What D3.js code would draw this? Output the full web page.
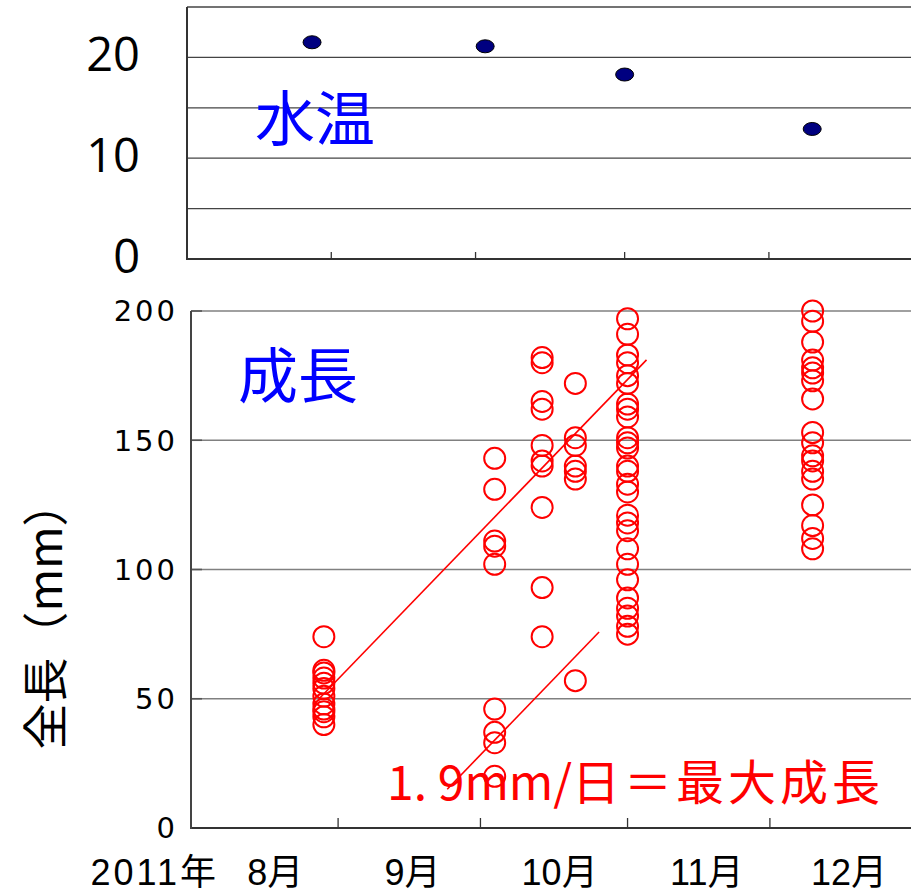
<!DOCTYPE html>
<html>
<head>
<meta charset="utf-8">
<script src="https://cdn.jsdelivr.net/npm/d3@7"></script>
<style>
  html, body { margin: 0; padding: 0; background: #fff; }
  svg { display: block; }
</style>
</head>
<body>
<svg id="chart" width="911" height="892"></svg>
<script>
// Water temperature (°C) at each survey
const tempDates = ["2011-08-28", "2011-10-03", "2011-11-01", "2011-12-10"];
const tempValues = [21.5, 21.1, 18.3, 12.9];

// Total length (mm) of each fish, grouped by survey date
const lengthDates = ["2011-08-29", "2011-10-04", "2011-10-14", "2011-10-21", "2011-11-01", "2011-12-10"];
const lengthAug29 = [74, 61, 60, 58, 56, 54, 51, 48, 46, 45, 43, 40];
const lengthOct04 = [143, 131, 111, 109, 102, 46, 37, 33, 20];
const lengthOct14 = [182, 180, 165, 162, 148, 142, 140, 124, 93, 74];
const lengthOct21 = [172, 151, 148, 140, 138, 135, 57];
const lengthNov01 = [197, 191, 183, 180, 175, 172, 164, 162, 159, 151, 149, 147, 140, 138,
                     133, 130, 121, 118, 115, 108, 102, 96, 89, 85, 82, 78, 75];
const lengthDec10 = [200, 196, 188, 181, 178, 176, 173, 166, 153, 149, 144, 142, 138, 135,
                     125, 117, 112, 108];
const lengthSamples = [lengthAug29, lengthOct04, lengthOct14, lengthOct21, lengthNov01, lengthDec10];

// Maximum-growth guide lines: start date, start length, end date; slope = growthRate mm/day
const growthRate = 1.9;
const guideStarts = ["2011-08-28", "2011-09-24"];
const guideStartValues = [50, 15];
const guideEnds = ["2011-11-05", "2011-10-26"];

// Axis ticks and labels
const tempTicks = [0, 10, 20];
const tempGrid = [5, 10, 15, 20, 25];
const lengthTicks = [0, 50, 100, 150, 200];
const monthStarts = ["2011-09-01", "2011-10-01", "2011-11-01", "2011-12-01"];
const monthLabels = ["8月", "9月", "10月", "11月", "12月"];
const monthMids = ["2011-08-16", "2011-09-15", "2011-10-16", "2011-11-16", "2011-12-16"];
const yearLabel = "2011年";

const parse = d3.timeParse("%Y-%m-%d");
const DAY = 86400000;
const CJK = "'Noto Sans CJK JP', sans-serif";
const LAT = "'Liberation Sans', Arial, sans-serif";

const svg = d3.select("#chart");

// ---------- top panel: water temperature ----------
const topBox = { left: 187, right: 918, top: 7, bottom: 259 };
const xTop = d3.scaleTime()
  .domain([parse("2011-08-02"), parse("2012-01-01")])
  .range([topBox.left, topBox.right]);
const yTop = d3.scaleLinear().domain([0, 25]).range([topBox.bottom, topBox.top]);

const gTop = svg.append("g");
gTop.selectAll("line.grid").data(tempGrid).join("line")
  .attr("class", "grid")
  .attr("x1", topBox.left).attr("x2", topBox.right)
  .attr("y1", d => yTop(d)).attr("y2", d => yTop(d))
  .attr("stroke", "#444").attr("stroke-width", 1.3);

// x axis with inward ticks
gTop.append("line")
  .attr("x1", topBox.left).attr("x2", topBox.right)
  .attr("y1", topBox.bottom).attr("y2", topBox.bottom)
  .attr("stroke", "#333").attr("stroke-width", 2);
gTop.selectAll("line.xt").data(monthStarts).join("line")
  .attr("class", "xt")
  .attr("x1", d => xTop(parse(d))).attr("x2", d => xTop(parse(d)))
  .attr("y1", topBox.bottom).attr("y2", topBox.bottom - 7)
  .attr("stroke", "#333").attr("stroke-width", 1.3);
gTop.append("line")
  .attr("x1", topBox.left).attr("x2", topBox.left)
  .attr("y1", topBox.top).attr("y2", topBox.bottom + 1)
  .attr("stroke", "#333").attr("stroke-width", 2);

gTop.selectAll("text.yt").data(tempTicks).join("text")
  .attr("class", "yt")
  .attr("x", 140).attr("y", d => yTop(d) - 3)
  .attr("dy", "0.36em")
  .attr("text-anchor", "end")
  .attr("font-family", "'Open Sans', sans-serif")
  .attr("font-size", 47)
  .attr("fill", "#000")
  .text(d => d);

gTop.selectAll("ellipse").data(tempValues).join("ellipse")
  .attr("cx", (d, i) => xTop(parse(tempDates[i])))
  .attr("cy", d => yTop(d))
  .attr("rx", 9).attr("ry", 6.5)
  .attr("fill", "#000080").attr("stroke", "#000").attr("stroke-width", 1);

gTop.append("text")
  .attr("x", 315).attr("y", 120)
  .attr("dy", "0.35em")
  .attr("text-anchor", "middle")
  .attr("font-family", CJK).attr("font-size", 60)
  .attr("fill", "#0000ff")
  .text("水温");

// ---------- bottom panel: total length ----------
const botBox = { left: 191, right: 917, top: 311, bottom: 828 };
const xBot = d3.scaleTime()
  .domain([parse("2011-08-01"), parse("2012-01-01")])
  .range([botBox.left, botBox.right]);
const yBot = d3.scaleLinear().domain([0, 200]).range([botBox.bottom, botBox.top]);

const gBot = svg.append("g");
gBot.selectAll("line.grid").data(lengthTicks.filter(d => d > 0)).join("line")
  .attr("class", "grid")
  .attr("x1", botBox.left).attr("x2", botBox.right)
  .attr("y1", d => yBot(d)).attr("y2", d => yBot(d))
  .attr("stroke", "#808080").attr("stroke-width", 1.6);
gBot.selectAll("line.yt").data(lengthTicks).join("line")
  .attr("class", "yt")
  .attr("x1", botBox.left).attr("x2", botBox.left + 11)
  .attr("y1", d => yBot(d)).attr("y2", d => yBot(d))
  .attr("stroke", "#555").attr("stroke-width", 1.6);

gBot.append("line")
  .attr("x1", botBox.left).attr("x2", botBox.right)
  .attr("y1", botBox.bottom).attr("y2", botBox.bottom)
  .attr("stroke", "#333").attr("stroke-width", 2);
gBot.selectAll("line.xt").data(monthStarts).join("line")
  .attr("class", "xt")
  .attr("x1", d => xBot(parse(d))).attr("x2", d => xBot(parse(d)))
  .attr("y1", botBox.bottom).attr("y2", botBox.bottom - 10)
  .attr("stroke", "#333").attr("stroke-width", 1.3);
gBot.append("line")
  .attr("x1", botBox.left).attr("x2", botBox.left)
  .attr("y1", botBox.top).attr("y2", botBox.bottom + 1)
  .attr("stroke", "#444").attr("stroke-width", 2);

gBot.selectAll("text.yl").data(lengthTicks).join("text")
  .attr("class", "yl")
  .attr("x", 178).attr("y", d => yBot(d))
  .attr("dy", "0.36em")
  .attr("text-anchor", "end")
  .attr("font-family", "'DejaVu Sans', sans-serif")
  .attr("font-size", 29)
  .attr("letter-spacing", 3)
  .attr("fill", "#000")
  .text(d => d);

// month labels under the shared date axis
gBot.selectAll("text.ml").data(monthLabels).join("text")
  .attr("class", "ml")
  .attr("x", (d, i) => xBot(parse(monthMids[i])) + (i === 0 ? 13 : 8))
  .attr("y", 885)
  .attr("text-anchor", "middle")
  .attr("font-family", LAT + ", " + CJK)
  .attr("font-size", 36)
  .attr("fill", "#000")
  .text(d => d);
gBot.append("text")
  .attr("x", 219).attr("y", 885)
  .attr("text-anchor", "end")
  .attr("font-family", LAT + ", " + CJK)
  .attr("font-size", 36)
  .attr("letter-spacing", 3)
  .attr("fill", "#000")
  .text(yearLabel);

// y-axis title
gBot.append("text")
  .attr("transform", "translate(46,615) rotate(-90)")
  .attr("text-anchor", "middle")
  .attr("dy", "0.35em")
  .attr("font-family", CJK).attr("font-size", 46)
  .attr("fill", "#000")
  .text("全長（mm）");

gBot.append("text")
  .attr("x", 298).attr("y", 377)
  .attr("dy", "0.35em")
  .attr("text-anchor", "middle")
  .attr("font-family", CJK).attr("font-size", 60)
  .attr("fill", "#0000ff")
  .text("成長");

// growth guide lines
const guides = guideStarts.map((s, i) => {
  const t0 = parse(s), t1 = parse(guideEnds[i]);
  const v0 = guideStartValues[i];
  const v1 = v0 + growthRate * (t1 - t0) / DAY;
  return [[t0, v0], [t1, v1]];
});
gBot.selectAll("path.guide").data(guides).join("path")
  .attr("class", "guide")
  .attr("d", d3.line().x(d => xBot(d[0])).y(d => yBot(d[1])))
  .attr("fill", "none").attr("stroke", "#ff0000").attr("stroke-width", 1.6);

// fish length points
const points = lengthSamples.flatMap((vals, i) => vals.map(v => ({ date: parse(lengthDates[i]), v })));
gBot.selectAll("circle").data(points).join("circle")
  .attr("cx", d => xBot(d.date))
  .attr("cy", d => yBot(d.v))
  .attr("r", 10.5)
  .attr("fill", "none").attr("stroke", "#ff0000").attr("stroke-width", 2);

// growth-rate note
const note = gBot.append("text")
  .attr("x", 387).attr("y", 800)
  .attr("font-family", CJK).attr("font-size", 48)
  .attr("fill", "#ff0000");
note.append("tspan").text(String(growthRate).replace(".", ". ") + "mm/");
note.append("tspan").attr("letter-spacing", 4).text("日＝最大成長");
</script>
</body>
</html>
